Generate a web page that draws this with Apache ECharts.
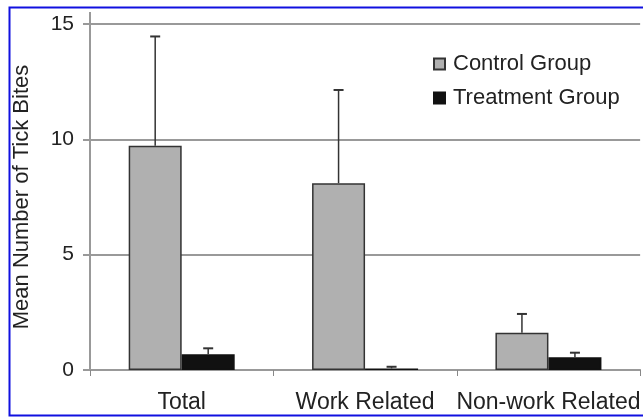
<!DOCTYPE html>
<html><head><meta charset="utf-8">
<script src="https://cdn.jsdelivr.net/npm/echarts@6/dist/echarts.min.js"></script>
<style>html,body{margin:0;padding:0;background:#fff}#c{width:643px;height:417px}</style>
</head><body><div id="c"></div>
<script>
const categories = ['Total', 'Work Related', 'Non-work Related'];
const controlMean = [9.72, 8.1, 1.62];
const controlUpper = [14.46, 12.14, 2.43];
const treatmentMean = [0.68, 0.07, 0.55];
const treatmentUpper = [0.94, 0.14, 0.75];
const yTicks = [0, 5, 10, 15];

const BW = 53;
const chart = echarts.init(document.getElementById('c'), null, {renderer: 'canvas'});
function errSeries(name, upper, means, sign) {
  return {
    type: 'custom', name: name + ' err', z: 5,
    data: upper.map((u, i) => [i, means[i], u]),
    renderItem: function (params, api) {
      const i = api.value(0);
      const p0 = api.coord([i, api.value(1)]);
      const p1 = api.coord([i, api.value(2)]);
      const x = p0[0] + sign * BW / 2;
      return {type: 'group', children: [
        {type: 'line', shape: {x1: x, y1: p0[1], x2: x, y2: p1[1]}, style: {stroke: '#333', lineWidth: 1.5}},
        {type: 'line', shape: {x1: x - 5, y1: p1[1], x2: x + 5, y2: p1[1]}, style: {stroke: '#333', lineWidth: 2}}
      ]};
    }
  };
}
chart.setOption({
  animation: false,
  textStyle: {fontFamily: 'Liberation Sans, Arial, sans-serif'},
  grid: {left: 90, right: 0, top: 24, bottom: 47},
  legend: {
    data: ['Control Group', 'Treatment Group'], orient: 'vertical', left: 428, top: 48,
    icon: 'rect', itemWidth: 11, itemHeight: 11, itemGap: 12,
    textStyle: {fontSize: 22, color: '#222', padding: [0, 0, 0, 3]}
  },
  xAxis: {
    type: 'category', data: categories,
    axisLine: {lineStyle: {color: '#999', width: 2}},
    axisTick: {show: true, length: 6, lineStyle: {color: '#888'}},
    axisLabel: {fontSize: 23, color: '#222', margin: 21, interval: 0}
  },
  yAxis: {
    type: 'value', min: 0, max: 15, interval: 5,
    name: 'Mean Number of Tick Bites', nameLocation: 'middle', nameGap: 57, nameRotate: 90,
    nameTextStyle: {fontSize: 22, color: '#222'},
    axisLine: {show: true, lineStyle: {color: '#999', width: 2}},
    axisTick: {show: true, length: 7, lineStyle: {color: '#999', width: 2}},
    axisLabel: {fontSize: 21, color: '#222', margin: 16,
      formatter: v => yTicks.includes(v) ? String(v) : ''},
    splitLine: {lineStyle: {color: '#999', width: 2}}
  },
  series: [
    {name: 'Control Group', type: 'bar', data: controlMean, barWidth: BW, barGap: '0%',
     itemStyle: {color: '#b0b0b0', borderColor: '#333', borderWidth: 1.5}},
    {name: 'Treatment Group', type: 'bar', data: treatmentMean, barWidth: BW, barGap: '0%',
     itemStyle: {color: '#111', borderColor: '#111', borderWidth: 1.5}},
    errSeries('Control Group', controlUpper, controlMean, -1),
    errSeries('Treatment Group', treatmentUpper, treatmentMean, 1)
  ],
  graphic: [
    {type: 'line', shape: {x1: 90, y1: 12, x2: 90, y2: 24}, silent: true, style: {stroke: '#999', lineWidth: 2}},
    {type: 'rect', left: 7, top: 5, shape: {width: 650, height: 408}, silent: true,
    style: {fill: 'none', stroke: '#1010e0', lineWidth: 2}}]
});
</script></body></html>
